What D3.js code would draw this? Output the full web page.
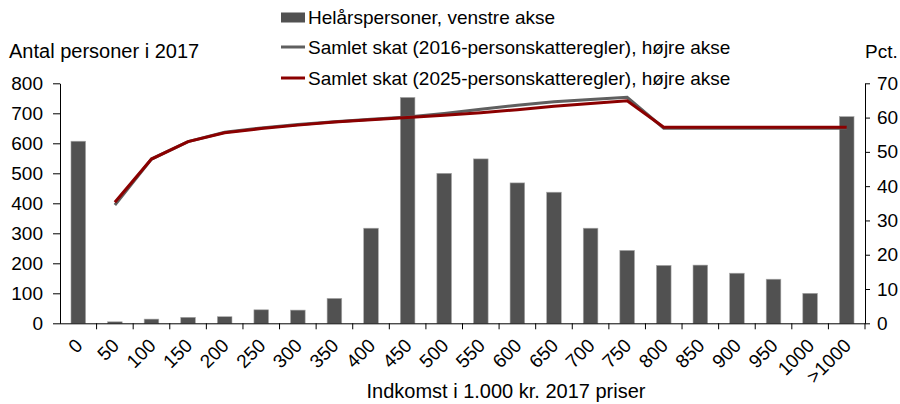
<!DOCTYPE html>
<html>
<head>
<meta charset="utf-8">
<script src="https://cdn.jsdelivr.net/npm/d3@7"></script>
<style>
    body { margin: 0; background: #fff; }
    svg { display: block; font-family: "Liberation Sans", Arial, sans-serif; }
</style>
</head>
<body>
<div id="svgcontainer"></div>
<script>
const categories = ["0", "50", "100", "150", "200", "250", "300", "350", "400", "450", "500",
    "550", "600", "650", "700", "750", "800", "850", "900", "950", "1000", ">1000"]

// Helårspersoner (left axis)
const persons = [607, 5, 14, 20, 22, 45, 44, 83, 317, 753, 500,
    548, 468, 437, 317, 243, 193, 194, 167, 147, 100, 689]

// Samlet skat, pct. (right axis) - no value for the 0 group
const tax2016 = [null, 34.5, 47.9, 53.0, 55.7, 57.0, 58.0, 58.8, 59.5, 60.2, 61.2,
    62.4, 63.6, 64.6, 65.3, 65.9, 56.9, 56.9, 56.9, 56.9, 56.9, 56.9]
const tax2025 = [null, 35.3, 47.9, 53.0, 55.6, 56.8, 57.8, 58.7, 59.4, 60.0, 60.7,
    61.4, 62.3, 63.3, 64.1, 64.9, 57.2, 57.2, 57.2, 57.2, 57.2, 57.2]

const leftTicks = [0, 100, 200, 300, 400, 500, 600, 700, 800]
const rightTicks = [0, 10, 20, 30, 40, 50, 60, 70]

const legendLabels = [
    "Helårspersoner, venstre akse",
    "Samlet skat (2016-personskatteregler), højre akse",
    "Samlet skat (2025-personskatteregler), højre akse"
]

const WIDTH = 900
const HEIGHT = 404
const LEFT = 60
const RIGHT = 865
const TOP = 83.3
const BOTTOM = 323.3
const FONT = 19
const TITLE_FONT = 20

const BAR_COLOR = "#515151"
const GREY_LINE = "#5f5f5f"
const RED_LINE = "#8b0000"

function render() {
    const svg = d3.select("#svgcontainer")
        .append("svg")
        .attr("width", WIDTH)
        .attr("height", HEIGHT)
        .attr("viewBox", [0, 0, WIDTH, HEIGHT])

    let x = d3.scaleBand()
        .domain(categories)
        .range([LEFT, RIGHT])
        .paddingInner(0.6)
        .paddingOuter(0.3)

    let xBand = d3.scaleBand()
        .domain(categories)
        .range([LEFT, RIGHT])

    let yLeft = d3.scaleLinear()
        .domain([0, 800])
        .range([BOTTOM, TOP])

    let yRight = d3.scaleLinear()
        .domain([0, 70])
        .range([BOTTOM, TOP])

    // bars
    svg.append("g")
        .selectAll("rect")
        .data(persons)
        .join("rect")
            .attr("x", (d, i) => xBand(categories[i]) + xBand.bandwidth() / 2 - x.bandwidth() / 2)
            .attr("y", d => yLeft(d))
            .attr("width", x.bandwidth())
            .attr("height", d => yLeft(0) - yLeft(d))
            .attr("fill", BAR_COLOR)
            .attr("stroke", "#a9a9a9")
            .attr("stroke-width", 0.6)

    // lines
    let line = d3.line()
        .defined(d => d !== null)
        .x((d, i) => xBand(categories[i]) + xBand.bandwidth() / 2)
        .y(d => yRight(d))

    svg.append("path")
        .datum(tax2016)
        .attr("d", line)
        .attr("fill", "none")
        .attr("stroke", GREY_LINE)
        .attr("stroke-width", 3)

    svg.append("path")
        .datum(tax2025)
        .attr("d", line)
        .attr("fill", "none")
        .attr("stroke", RED_LINE)
        .attr("stroke-width", 3)

    // left axis
    let leftAxis = svg.append("g")
        .attr("transform", `translate(${LEFT},0)`)
        .call(d3.axisLeft(yLeft).tickValues(leftTicks).tickSize(7).tickSizeOuter(0).tickPadding(10))
    styleAxis(leftAxis)

    // right axis (labels kept inside the 900px frame)
    let rightAxis = svg.append("g")
        .attr("transform", `translate(${RIGHT},0)`)
        .call(d3.axisRight(yRight).tickValues(rightTicks).tickSize(5).tickSizeOuter(0).tickPadding(7))
    styleAxis(rightAxis)

    // bottom axis, ticks on the band boundaries
    let bottom = svg.append("g")
    bottom.append("line")
        .attr("x1", LEFT)
        .attr("x2", RIGHT)
        .attr("y1", BOTTOM + 0.5)
        .attr("y2", BOTTOM + 0.5)
        .attr("stroke", "#000")
    bottom.selectAll("line.tick")
        .data(categories.slice(1).concat(["end"]))
        .join("line")
            .attr("class", "tick")
            .attr("x1", (d, i) => i < categories.length - 1 ? xBand(d) : RIGHT)
            .attr("x2", (d, i) => i < categories.length - 1 ? xBand(d) : RIGHT)
            .attr("y1", BOTTOM)
            .attr("y2", BOTTOM + 6)
            .attr("stroke", "#000")

    bottom.selectAll("text")
        .data(categories)
        .join("text")
            .attr("transform", d => `translate(${xBand(d) + xBand.bandwidth() / 2 - 4} ${BOTTOM + 14}) rotate(-45)`)
            .attr("text-anchor", "end")
            .attr("dy", "0.7em")
            .attr("font-size", FONT)
            .attr("fill", "#000")
            .text(d => d)

    // titles
    svg.append("text")
        .attr("x", 9)
        .attr("y", 58)
        .attr("font-size", TITLE_FONT)
        .text("Antal personer i 2017")

    svg.append("text")
        .attr("x", RIGHT)
        .attr("y", 58)
        .attr("font-size", FONT)
        .text("Pct.")

    svg.append("text")
        .attr("x", 506)
        .attr("y", 398)
        .attr("text-anchor", "middle")
        .attr("font-size", TITLE_FONT)
        .text("Indkomst i 1.000 kr. 2017 priser")

    // legend
    let legend = svg.append("g")
        .attr("transform", "translate(281,0)")
    legend.append("rect")
        .attr("x", 0)
        .attr("y", 12.5)
        .attr("width", 24)
        .attr("height", 10)
        .attr("fill", BAR_COLOR)
    legend.append("line")
        .attr("x1", 0).attr("x2", 24)
        .attr("y1", 47).attr("y2", 47)
        .attr("stroke", GREY_LINE)
        .attr("stroke-width", 3)
    legend.append("line")
        .attr("x1", 0).attr("x2", 24)
        .attr("y1", 78).attr("y2", 78)
        .attr("stroke", RED_LINE)
        .attr("stroke-width", 3)
    legend.selectAll("text")
        .data(legendLabels)
        .join("text")
            .attr("x", 27)
            .attr("y", (d, i) => 23.5 + i * 30.5)
            .attr("font-size", FONT)
            .text(d => d)
}

function styleAxis(axis) {
    axis.select(".domain").attr("stroke", "#000")
    axis.selectAll(".tick line").attr("stroke", "#000")
    axis.selectAll(".tick text")
        .attr("font-size", FONT)
        .attr("font-family", "Liberation Sans, Arial, sans-serif")
        .attr("fill", "#000")
}

render()
</script>
</body>
</html>
